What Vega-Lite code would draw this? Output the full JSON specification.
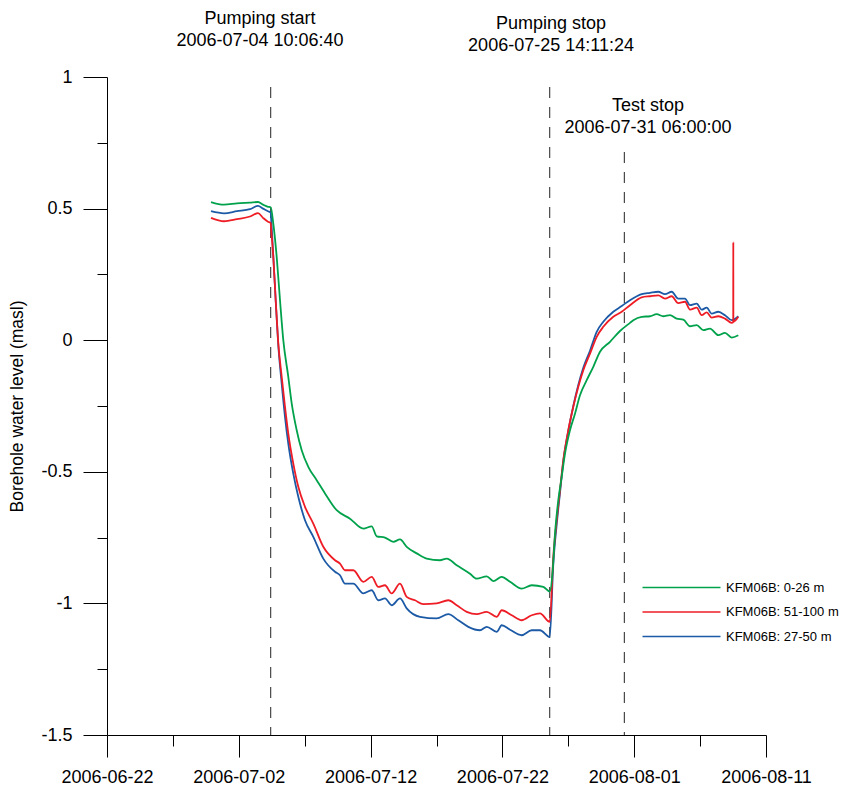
{
  "$schema": "https://vega.github.io/schema/vega-lite/v6.json",
  "width": 659,
  "height": 658,
  "autosize": {"type": "none"},
  "padding": {"left": 107, "top": 77, "right": 79, "bottom": 54},
  "background": "white",
  "config": {
    "view": {"stroke": null},
    "font": "Liberation Sans",
    "axis": {
      "grid": false,
      "domainColor": "#000",
      "tickColor": "#000",
      "labelColor": "#000",
      "titleColor": "#000",
      "labelFont": "Liberation Sans",
      "labelFontSize": 18,
      "titleFont": "Liberation Sans",
      "titleFontSize": 17.5,
      "titleFontWeight": "normal",
      "domainWidth": 1,
      "tickWidth": 1
    }
  },
  "datasets": {
    "w": [
      {"t": "2006-06-29T21:23", "k": "b", "v": 0.49},
      {"t": "2006-06-30T21:03", "k": "b", "v": 0.482},
      {"t": "2006-07-01T20:43", "k": "b", "v": 0.49},
      {"t": "2006-07-02T20:24", "k": "b", "v": 0.498},
      {"t": "2006-07-03T10:58", "k": "b", "v": 0.51},
      {"t": "2006-07-03T20:04", "k": "b", "v": 0.5},
      {"t": "2006-07-04T05:11", "k": "b", "v": 0.49},
      {"t": "2006-07-04T10:06", "k": "b", "v": 0.485},
      {"t": "2006-07-04T10:38", "k": "b", "v": 0.47},
      {"t": "2006-07-04T14:50", "k": "b", "v": 0.32},
      {"t": "2006-07-04T19:12", "k": "b", "v": 0.15},
      {"t": "2006-07-04T23:56", "k": "b", "v": -0.02},
      {"t": "2006-07-05T06:07", "k": "b", "v": -0.165},
      {"t": "2006-07-05T12:07", "k": "b", "v": -0.291},
      {"t": "2006-07-05T18:08", "k": "b", "v": -0.393},
      {"t": "2006-07-06T03:14", "k": "b", "v": -0.507},
      {"t": "2006-07-06T12:20", "k": "b", "v": -0.595},
      {"t": "2006-07-07T00:33", "k": "b", "v": -0.684},
      {"t": "2006-07-07T15:40", "k": "b", "v": -0.747},
      {"t": "2006-07-08T09:52", "k": "b", "v": -0.83},
      {"t": "2006-07-09T07:10", "k": "b", "v": -0.88},
      {"t": "2006-07-09T16:16", "k": "b", "v": -0.893},
      {"t": "2006-07-10T01:23", "k": "b", "v": -0.925},
      {"t": "2006-07-10T16:30", "k": "b", "v": -0.925},
      {"t": "2006-07-11T10:42", "k": "b", "v": -0.962},
      {"t": "2006-07-12T02:00", "k": "b", "v": -0.95},
      {"t": "2006-07-12T14:01", "k": "b", "v": -0.988},
      {"t": "2006-07-13T02:13", "k": "b", "v": -0.981},
      {"t": "2006-07-13T14:25", "k": "b", "v": -1.007},
      {"t": "2006-07-14T05:32", "k": "b", "v": -0.981},
      {"t": "2006-07-14T17:44", "k": "b", "v": -1.019},
      {"t": "2006-07-15T17:57", "k": "b", "v": -1.051},
      {"t": "2006-07-17T00:22", "k": "b", "v": -1.057},
      {"t": "2006-07-17T21:29", "k": "b", "v": -1.041},
      {"t": "2006-07-18T15:42", "k": "b", "v": -1.064},
      {"t": "2006-07-19T09:55", "k": "b", "v": -1.089},
      {"t": "2006-07-20T07:12", "k": "b", "v": -1.102},
      {"t": "2006-07-20T19:25", "k": "b", "v": -1.089},
      {"t": "2006-07-21T13:38", "k": "b", "v": -1.108},
      {"t": "2006-07-21T22:44", "k": "b", "v": -1.083},
      {"t": "2006-07-22T13:51", "k": "b", "v": -1.1},
      {"t": "2006-07-23T11:08", "k": "b", "v": -1.121},
      {"t": "2006-07-24T05:21", "k": "b", "v": -1.102},
      {"t": "2006-07-24T20:28", "k": "b", "v": -1.102},
      {"t": "2006-07-25T14:11", "k": "b", "v": -1.128},
      {"t": "2006-07-25T20:41", "k": "b", "v": -0.85},
      {"t": "2006-07-26T02:53", "k": "b", "v": -0.7},
      {"t": "2006-07-26T08:53", "k": "b", "v": -0.58},
      {"t": "2006-07-26T14:54", "k": "b", "v": -0.46},
      {"t": "2006-07-27T00:00", "k": "b", "v": -0.345},
      {"t": "2006-07-27T09:06", "k": "b", "v": -0.25},
      {"t": "2006-07-27T18:13", "k": "b", "v": -0.17},
      {"t": "2006-07-28T03:19", "k": "b", "v": -0.105},
      {"t": "2006-07-28T15:30", "k": "b", "v": -0.04},
      {"t": "2006-07-29T03:43", "k": "b", "v": 0.032},
      {"t": "2006-07-29T15:44", "k": "b", "v": 0.07},
      {"t": "2006-07-30T09:56", "k": "b", "v": 0.108},
      {"t": "2006-07-31T01:15", "k": "b", "v": 0.13},
      {"t": "2006-07-31T16:21", "k": "b", "v": 0.152},
      {"t": "2006-08-01T13:40", "k": "b", "v": 0.175},
      {"t": "2006-08-02T04:46", "k": "b", "v": 0.18},
      {"t": "2006-08-02T19:54", "k": "b", "v": 0.184},
      {"t": "2006-08-03T08:05", "k": "b", "v": 0.175},
      {"t": "2006-08-03T20:17", "k": "b", "v": 0.184},
      {"t": "2006-08-04T08:18", "k": "b", "v": 0.158},
      {"t": "2006-08-04T20:30", "k": "b", "v": 0.158},
      {"t": "2006-08-05T05:37", "k": "b", "v": 0.133},
      {"t": "2006-08-05T17:49", "k": "b", "v": 0.139},
      {"t": "2006-08-06T02:54", "k": "b", "v": 0.116},
      {"t": "2006-08-06T12:01", "k": "b", "v": 0.124},
      {"t": "2006-08-06T21:07", "k": "b", "v": 0.101},
      {"t": "2006-08-07T09:09", "k": "b", "v": 0.108},
      {"t": "2006-08-07T21:20", "k": "b", "v": 0.095},
      {"t": "2006-08-08T09:32", "k": "b", "v": 0.076},
      {"t": "2006-08-08T21:33", "k": "b", "v": 0.091},

      {"t": "2006-06-29T21:23", "k": "r", "v": 0.465},
      {"t": "2006-06-30T21:03", "k": "r", "v": 0.452},
      {"t": "2006-07-01T20:43", "k": "r", "v": 0.46},
      {"t": "2006-07-02T20:24", "k": "r", "v": 0.47},
      {"t": "2006-07-03T10:58", "k": "r", "v": 0.483},
      {"t": "2006-07-03T20:04", "k": "r", "v": 0.465},
      {"t": "2006-07-04T05:11", "k": "r", "v": 0.45},
      {"t": "2006-07-04T10:06", "k": "r", "v": 0.445},
      {"t": "2006-07-04T10:38", "k": "r", "v": 0.43},
      {"t": "2006-07-04T14:50", "k": "r", "v": 0.316},
      {"t": "2006-07-04T19:12", "k": "r", "v": 0.152},
      {"t": "2006-07-04T23:56", "k": "r", "v": -0.012},
      {"t": "2006-07-05T06:07", "k": "r", "v": -0.139},
      {"t": "2006-07-05T12:07", "k": "r", "v": -0.253},
      {"t": "2006-07-05T18:08", "k": "r", "v": -0.355},
      {"t": "2006-07-06T03:14", "k": "r", "v": -0.469},
      {"t": "2006-07-06T12:20", "k": "r", "v": -0.557},
      {"t": "2006-07-07T00:33", "k": "r", "v": -0.633},
      {"t": "2006-07-07T15:40", "k": "r", "v": -0.697},
      {"t": "2006-07-08T09:52", "k": "r", "v": -0.785},
      {"t": "2006-07-09T07:10", "k": "r", "v": -0.836},
      {"t": "2006-07-09T16:16", "k": "r", "v": -0.849},
      {"t": "2006-07-10T01:23", "k": "r", "v": -0.874},
      {"t": "2006-07-10T16:30", "k": "r", "v": -0.874},
      {"t": "2006-07-11T10:42", "k": "r", "v": -0.918},
      {"t": "2006-07-12T02:00", "k": "r", "v": -0.899},
      {"t": "2006-07-12T14:01", "k": "r", "v": -0.937},
      {"t": "2006-07-13T02:13", "k": "r", "v": -0.931},
      {"t": "2006-07-13T14:25", "k": "r", "v": -0.962},
      {"t": "2006-07-14T05:32", "k": "r", "v": -0.925},
      {"t": "2006-07-14T17:44", "k": "r", "v": -0.975},
      {"t": "2006-07-15T08:51", "k": "r", "v": -0.988},
      {"t": "2006-07-15T23:57", "k": "r", "v": -1.003},
      {"t": "2006-07-17T00:22", "k": "r", "v": -1.0},
      {"t": "2006-07-17T21:29", "k": "r", "v": -0.988},
      {"t": "2006-07-18T12:47", "k": "r", "v": -1.007},
      {"t": "2006-07-19T06:59", "k": "r", "v": -1.032},
      {"t": "2006-07-20T01:12", "k": "r", "v": -1.041},
      {"t": "2006-07-20T19:25", "k": "r", "v": -1.032},
      {"t": "2006-07-21T13:38", "k": "r", "v": -1.051},
      {"t": "2006-07-21T22:44", "k": "r", "v": -1.026},
      {"t": "2006-07-22T16:57", "k": "r", "v": -1.045},
      {"t": "2006-07-23T11:08", "k": "r", "v": -1.064},
      {"t": "2006-07-24T05:21", "k": "r", "v": -1.045},
      {"t": "2006-07-24T20:28", "k": "r", "v": -1.038},
      {"t": "2006-07-25T14:11", "k": "r", "v": -1.07},
      {"t": "2006-07-25T20:41", "k": "r", "v": -0.823},
      {"t": "2006-07-26T02:53", "k": "r", "v": -0.684},
      {"t": "2006-07-26T08:53", "k": "r", "v": -0.57},
      {"t": "2006-07-26T14:54", "k": "r", "v": -0.456},
      {"t": "2006-07-27T00:00", "k": "r", "v": -0.342},
      {"t": "2006-07-27T09:06", "k": "r", "v": -0.253},
      {"t": "2006-07-27T18:13", "k": "r", "v": -0.177},
      {"t": "2006-07-28T03:19", "k": "r", "v": -0.114},
      {"t": "2006-07-28T15:30", "k": "r", "v": -0.051},
      {"t": "2006-07-29T03:43", "k": "r", "v": 0.013},
      {"t": "2006-07-29T15:44", "k": "r", "v": 0.051},
      {"t": "2006-07-30T09:56", "k": "r", "v": 0.089},
      {"t": "2006-07-31T01:15", "k": "r", "v": 0.108},
      {"t": "2006-07-31T16:21", "k": "r", "v": 0.133},
      {"t": "2006-08-01T13:40", "k": "r", "v": 0.163},
      {"t": "2006-08-02T04:46", "k": "r", "v": 0.167},
      {"t": "2006-08-02T19:54", "k": "r", "v": 0.17},
      {"t": "2006-08-03T08:05", "k": "r", "v": 0.158},
      {"t": "2006-08-03T20:17", "k": "r", "v": 0.167},
      {"t": "2006-08-04T08:18", "k": "r", "v": 0.141},
      {"t": "2006-08-04T20:30", "k": "r", "v": 0.146},
      {"t": "2006-08-05T05:37", "k": "r", "v": 0.116},
      {"t": "2006-08-05T17:49", "k": "r", "v": 0.124},
      {"t": "2006-08-06T02:54", "k": "r", "v": 0.095},
      {"t": "2006-08-06T12:01", "k": "r", "v": 0.106},
      {"t": "2006-08-06T21:07", "k": "r", "v": 0.086},
      {"t": "2006-08-07T09:09", "k": "r", "v": 0.091},
      {"t": "2006-08-07T21:20", "k": "r", "v": 0.082},
      {"t": "2006-08-08T09:32", "k": "r", "v": 0.066},
      {"t": "2006-08-08T12:20", "k": "r", "v": 0.068},
      {"t": "2006-08-08T12:27", "k": "r", "v": 0.373},
      {"t": "2006-08-08T12:34", "k": "r", "v": 0.07},
      {"t": "2006-08-08T21:33", "k": "r", "v": 0.089},

      {"t": "2006-06-29T21:23", "k": "g", "v": 0.525},
      {"t": "2006-06-30T21:03", "k": "g", "v": 0.515},
      {"t": "2006-07-01T20:43", "k": "g", "v": 0.52},
      {"t": "2006-07-02T20:24", "k": "g", "v": 0.523},
      {"t": "2006-07-03T10:58", "k": "g", "v": 0.525},
      {"t": "2006-07-03T20:04", "k": "g", "v": 0.515},
      {"t": "2006-07-04T05:11", "k": "g", "v": 0.507},
      {"t": "2006-07-04T10:06", "k": "g", "v": 0.505},
      {"t": "2006-07-04T14:50", "k": "g", "v": 0.443},
      {"t": "2006-07-04T21:01", "k": "g", "v": 0.316},
      {"t": "2006-07-05T03:02", "k": "g", "v": 0.152},
      {"t": "2006-07-05T09:02", "k": "g", "v": 0.0},
      {"t": "2006-07-05T18:08", "k": "g", "v": -0.139},
      {"t": "2006-07-06T00:20", "k": "g", "v": -0.24},
      {"t": "2006-07-06T09:26", "k": "g", "v": -0.342},
      {"t": "2006-07-06T18:32", "k": "g", "v": -0.418},
      {"t": "2006-07-07T06:33", "k": "g", "v": -0.481},
      {"t": "2006-07-07T21:52", "k": "g", "v": -0.532},
      {"t": "2006-07-08T12:58", "k": "g", "v": -0.582},
      {"t": "2006-07-09T10:16", "k": "g", "v": -0.646},
      {"t": "2006-07-10T10:29", "k": "g", "v": -0.678},
      {"t": "2006-07-11T10:42", "k": "g", "v": -0.716},
      {"t": "2006-07-12T02:00", "k": "g", "v": -0.707},
      {"t": "2006-07-12T11:06", "k": "g", "v": -0.745},
      {"t": "2006-07-13T02:13", "k": "g", "v": -0.75},
      {"t": "2006-07-13T17:20", "k": "g", "v": -0.766},
      {"t": "2006-07-14T05:32", "k": "g", "v": -0.757},
      {"t": "2006-07-14T17:44", "k": "g", "v": -0.785},
      {"t": "2006-07-15T11:57", "k": "g", "v": -0.81},
      {"t": "2006-07-16T06:09", "k": "g", "v": -0.83},
      {"t": "2006-07-17T06:23", "k": "g", "v": -0.836},
      {"t": "2006-07-17T18:35", "k": "g", "v": -0.83},
      {"t": "2006-07-18T12:47", "k": "g", "v": -0.855},
      {"t": "2006-07-19T13:00", "k": "g", "v": -0.887},
      {"t": "2006-07-20T01:12", "k": "g", "v": -0.906},
      {"t": "2006-07-20T19:25", "k": "g", "v": -0.897},
      {"t": "2006-07-21T07:26", "k": "g", "v": -0.915},
      {"t": "2006-07-21T22:44", "k": "g", "v": -0.899},
      {"t": "2006-07-22T13:51", "k": "g", "v": -0.918},
      {"t": "2006-07-23T11:08", "k": "g", "v": -0.944},
      {"t": "2006-07-24T05:21", "k": "g", "v": -0.931},
      {"t": "2006-07-25T02:28", "k": "g", "v": -0.937},
      {"t": "2006-07-25T14:11", "k": "g", "v": -0.955},
      {"t": "2006-07-25T19:36", "k": "g", "v": -0.874},
      {"t": "2006-07-25T23:47", "k": "g", "v": -0.734},
      {"t": "2006-07-26T05:48", "k": "g", "v": -0.608},
      {"t": "2006-07-26T11:58", "k": "g", "v": -0.519},
      {"t": "2006-07-26T18:00", "k": "g", "v": -0.431},
      {"t": "2006-07-27T03:06", "k": "g", "v": -0.342},
      {"t": "2006-07-27T12:12", "k": "g", "v": -0.279},
      {"t": "2006-07-27T21:18", "k": "g", "v": -0.209},
      {"t": "2006-07-28T09:30", "k": "g", "v": -0.152},
      {"t": "2006-07-28T21:31", "k": "g", "v": -0.101},
      {"t": "2006-07-29T09:43", "k": "g", "v": -0.044},
      {"t": "2006-07-30T03:56", "k": "g", "v": -0.006},
      {"t": "2006-07-30T22:09", "k": "g", "v": 0.035},
      {"t": "2006-07-31T16:21", "k": "g", "v": 0.066},
      {"t": "2006-07-31T22:22", "k": "g", "v": 0.076},
      {"t": "2006-08-01T13:40", "k": "g", "v": 0.089},
      {"t": "2006-08-02T04:46", "k": "g", "v": 0.091},
      {"t": "2006-08-02T16:58", "k": "g", "v": 0.099},
      {"t": "2006-08-03T05:00", "k": "g", "v": 0.091},
      {"t": "2006-08-03T17:11", "k": "g", "v": 0.095},
      {"t": "2006-08-04T05:23", "k": "g", "v": 0.082},
      {"t": "2006-08-04T17:25", "k": "g", "v": 0.078},
      {"t": "2006-08-05T05:37", "k": "g", "v": 0.053},
      {"t": "2006-08-05T17:49", "k": "g", "v": 0.057},
      {"t": "2006-08-06T05:50", "k": "g", "v": 0.038},
      {"t": "2006-08-06T18:02", "k": "g", "v": 0.044},
      {"t": "2006-08-07T09:09", "k": "g", "v": 0.019},
      {"t": "2006-08-07T21:20", "k": "g", "v": 0.028},
      {"t": "2006-08-08T09:32", "k": "g", "v": 0.01},
      {"t": "2006-08-08T21:33", "k": "g", "v": 0.019}
    ],
    "events": [
      {"t": "2006-07-04T10:06:40", "top": 0.962},
      {"t": "2006-07-25T14:11:24", "top": 0.962},
      {"t": "2006-07-31T06:00:00", "top": 0.715}
    ],
    "notes": [
      {"t": "2006-07-03T14:37", "y": 1.2196, "label": "Pumping start\n2006-07-04 10:06:40"},
      {"t": "2006-07-25T16:32", "y": 1.2006, "label": "Pumping stop\n2006-07-25 14:11:24"},
      {"t": "2006-08-02T01:12", "y": 0.889, "label": "Test stop\n2006-07-31 06:00:00"}
    ]
  },
  "layer": [
    {
      "data": {"name": "events"},
      "mark": {"type": "rule", "color": "#222", "strokeWidth": 1, "strokeDash": [11, 9]},
      "encoding": {
        "x": {
          "field": "t", "type": "temporal",
          "scale": {"domain": [{"year": 2006, "month": 6, "date": 22}, {"year": 2006, "month": 8, "date": 11}]},
          "axis": {
            "orient": "bottom", "title": null, "labels": false, "domain": false, "tickSize": 11,
            "values": [
              {"year": 2006, "month": 6, "date": 27},
              {"year": 2006, "month": 7, "date": 7},
              {"year": 2006, "month": 7, "date": 17},
              {"year": 2006, "month": 7, "date": 27},
              {"year": 2006, "month": 8, "date": 6}
            ]
          }
        },
        "y": {
          "field": "top", "type": "quantitative",
          "scale": {"domain": [-1.5, 1], "nice": false, "zero": false},
          "axis": {
            "orient": "left", "title": null, "labels": false, "domain": false, "tickSize": 10,
            "values": [-1.25, -0.75, -0.25, 0.25, 0.75]
          }
        },
        "y2": {"datum": -1.5}
      }
    },
    {
      "data": {"name": "w"},
      "mark": {"type": "line", "strokeWidth": 1.8, "interpolate": "monotone", "strokeJoin": "round"},
      "encoding": {
        "x": {
          "field": "t", "type": "temporal",
          "axis": {
            "orient": "bottom", "title": null, "format": "%Y-%m-%d", "tickSize": 22, "labelPadding": 11,
            "labelFlush": false, "labelOverlap": false,
            "values": [
              {"year": 2006, "month": 6, "date": 22},
              {"year": 2006, "month": 7, "date": 2},
              {"year": 2006, "month": 7, "date": 12},
              {"year": 2006, "month": 7, "date": 22},
              {"year": 2006, "month": 8, "date": 1},
              {"year": 2006, "month": 8, "date": 11}
            ]
          }
        },
        "y": {
          "field": "v", "type": "quantitative",
          "axis": {
            "orient": "left", "title": "Borehole water level (masl)", "titlePadding": 14,
            "format": ".1~f", "labelExpr": "replace(datum.label, '\u2212', '-')",
            "tickSize": 24, "labelPadding": 11, "labelFlush": false, "labelOverlap": false,
            "values": [-1.5, -1, -0.5, 0, 0.5, 1]
          }
        },
        "color": {
          "field": "k", "type": "nominal",
          "scale": {"domain": ["g", "r", "b"], "range": ["#00a14b", "#ee1c25", "#1c5aa6"]},
          "legend": {
            "title": null, "orient": "none", "legendX": 564, "legendY": 500,
            "symbolType": "M-4,0H4", "symbolSize": 380, "symbolStrokeWidth": 1.5,
            "labelFont": "Liberation Sans", "labelFontSize": 13, "labelColor": "#000",
            "labelOffset": 34, "rowPadding": 6.5, "padding": 0,
            "labelExpr": "datum.label == 'g' ? 'KFM06B: 0-26 m' : datum.label == 'r' ? 'KFM06B: 51-100 m' : 'KFM06B: 27-50 m'"
          }
        }
      }
    },
    {
      "data": {"name": "notes"},
      "mark": {"type": "text", "align": "center", "baseline": "middle", "lineBreak": "\n", "lineHeight": 22, "fontSize": 18, "font": "Liberation Sans", "color": "#000"},
      "encoding": {
        "x": {"field": "t", "type": "temporal", "axis": null},
        "y": {"field": "y", "type": "quantitative", "axis": null},
        "text": {"field": "label", "type": "nominal"}
      }
    }
  ],
  "resolve": {"axis": {"x": "independent", "y": "independent"}}
}
